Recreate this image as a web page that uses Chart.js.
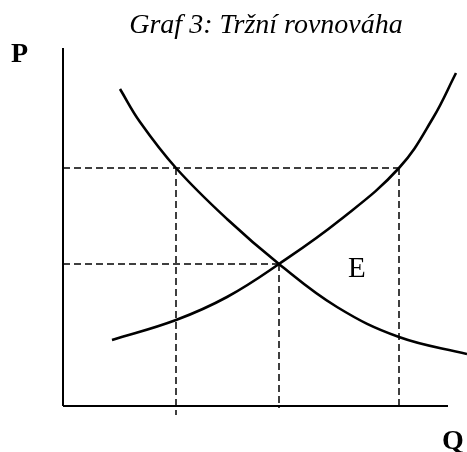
<!DOCTYPE html>
<html>
<head>
<meta charset="utf-8">
<script src="https://cdn.jsdelivr.net/npm/chart.js@4.4.0/dist/chart.umd.min.js"></script>
<style>
    html, body { margin: 0; padding: 0; background: #fff; }
    #wrap { width: 467px; height: 452px; }
</style>
</head>
<body>
<div id="wrap"><canvas id="canvas"></canvas></div>
<script>
// Textes
const titleText = 'Graf 3: Tržní rovnováha';
const yLabel = 'P';
const xLabel = 'Q';
const eqLabel = 'E';

// Courbe de demande (Q, P)
const demandQ = [14.25, 19.25, 28.25, 41, 54, 68.5, 84, 101];
const demandP = [79.25, 71, 59.5, 46.75, 35.5, 24.75, 17.25, 13];

// Courbe d'offre (Q, P)
const supplyQ = [12.25, 28.25, 41, 54, 69.25, 84, 92.5, 98.25];
const supplyP = [16.5, 21.5, 27.25, 35.5, 46.5, 59.5, 72, 83.25];

// Niveaux de prix / quantités repérés par les pointillés
const priceLevels = [35.5, 59.5];      // P équilibre, P haut
const quantityLevels = [28.25, 54, 84]; // Qd haut, Q équilibre, Qs haut
const dropEnds = [-2.25, -0.5, -0.5];  // fin des pointillés verticaux

// Axes
const qAxisEnd = 96.25;
const pAxisEnd = 89.5;

const toPoints = (xs, ys) => xs.map((x, i) => ({ x: x, y: ys[i] }));

const solid = (data, width) => ({
    data: data,
    borderColor: '#000',
    borderWidth: width,
    pointRadius: 0,
    showLine: true,
    fill: false,
    clip: false
});

const dashed = (data) => ({
    data: data,
    borderColor: '#000',
    borderWidth: 1.5,
    borderDash: [7, 4],
    pointRadius: 0,
    showLine: true,
    fill: false,
    clip: false
});

let datasets = [];

// axes
datasets.push(solid([{ x: 0, y: 0 }, { x: 0, y: pAxisEnd }], 2));
datasets.push(solid([{ x: 0, y: 0 }, { x: qAxisEnd, y: 0 }], 2));

// pointillés horizontaux
datasets.push(dashed([{ x: 0, y: priceLevels[0] }, { x: quantityLevels[1], y: priceLevels[0] }]));
datasets.push(dashed([{ x: 0, y: priceLevels[1] }, { x: quantityLevels[2], y: priceLevels[1] }]));

// pointillés verticaux
datasets.push(dashed([{ x: quantityLevels[0], y: priceLevels[1] }, { x: quantityLevels[0], y: dropEnds[0] }]));
datasets.push(dashed([{ x: quantityLevels[1], y: priceLevels[0] }, { x: quantityLevels[1], y: dropEnds[1] }]));
datasets.push(dashed([{ x: quantityLevels[2], y: priceLevels[1] }, { x: quantityLevels[2], y: dropEnds[2] }]));

// courbes lissées
let demand = solid(toPoints(demandQ, demandP), 2.6);
demand.tension = 0.4;
let supply = solid(toPoints(supplyQ, supplyP), 2.6);
supply.tension = 0.4;
datasets.push(demand, supply);

// Textes dessinés sur le canvas
const labelsPlugin = {
    id: 'labels',
    afterDraw(chart) {
        const ctx = chart.ctx;
        const xs = chart.scales.x;
        const ys = chart.scales.y;
        ctx.save();
        ctx.fillStyle = '#000';
        ctx.textBaseline = 'alphabetic';

        ctx.font = 'italic 28px "Liberation Serif"';
        ctx.textAlign = 'center';
        ctx.fillText(titleText, 266, 33);

        ctx.textAlign = 'left';
        ctx.font = 'bold 28px "Liberation Serif"';
        ctx.fillText(yLabel, 11, 62);
        ctx.fillText(xLabel, 442, 449);

        ctx.font = '29px "Liberation Serif"';
        ctx.fillText(eqLabel, xs.getPixelForValue(71.25), ys.getPixelForValue(32.25));
        ctx.restore();
    }
};

new Chart(document.querySelector('#canvas'), {
    type: 'scatter',
    data: { datasets: datasets },
    options: {
        responsive: true,
        maintainAspectRatio: false,
        animation: false,
        layout: { padding: { left: 63, right: 0, top: 48, bottom: 36 } },
        plugins: {
            legend: { display: false },
            tooltip: { enabled: false }
        },
        scales: {
            x: { type: 'linear', min: 0, max: 101, display: false },
            y: { type: 'linear', min: -2.5, max: 89.5, display: false }
        }
    },
    plugins: [labelsPlugin]
});
</script>
</body>
</html>
